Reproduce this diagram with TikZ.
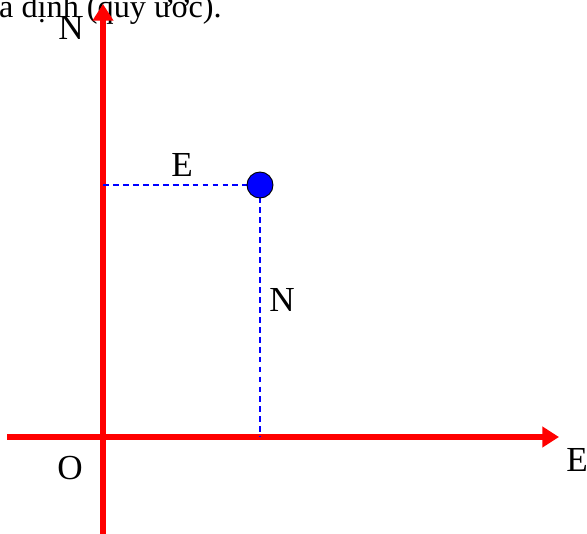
\documentclass[tikz,border=0pt]{standalone}
\usepackage{fontspec}
\setmainfont{Liberation Serif}
\usetikzlibrary{arrows.meta}
\definecolor{qred}{RGB}{255,0,0}
\definecolor{qblue}{RGB}{0,0,255}

\tikzset{
  axis/.style={draw=qred,line width=4.8pt,-{Triangle[length=0.5cm,width=0.6cm]}},
  guide/.style={draw=qblue,dash pattern=on 5pt off 3.5pt,line width=1.2pt},
  lbl/.style={inner sep=0pt,font=\fontsize{30}{32}\selectfont},
}

\begin{document}
\begin{tikzpicture}[x=0.03cm,y=-0.03cm]
\useasboundingbox (0,0) rectangle (587,534);

%caption remnant
\node[anchor=base west,inner sep=0pt,font=\fontsize{27.5}{30}\selectfont] (cap) at (-1,17.5) {a định (quy ước).};

%axes
\coordinate (O) at (103,437);
\coordinate (ybot) at (103,534);
\coordinate (ytop) at (103,4);
\coordinate (xleft) at (7,437);
\coordinate (xright) at (559,437);
\draw[axis] (ybot) -- (ytop);
\draw[axis] (xleft) -- (xright);

%point and projections
\coordinate (Py) at (103,185);
\coordinate (Px) at (260,437);
\draw[guide] (Py) -- (260,185) -- (Px);
\node[circle,fill=qblue,draw=black,line width=0.8pt,minimum size=0.78cm,inner sep=0pt] (P) at (260,185) {};

%labels
\node[lbl] (lN) at (71,28) {N};
\node[lbl] (lE) at (577,460) {E};
\node[lbl] (lO) at (70,468) {O};
\node[lbl] (lEp) at (182,165) {E};
\node[lbl] (lNp) at (282,300) {N};

\end{tikzpicture}
\end{document}
